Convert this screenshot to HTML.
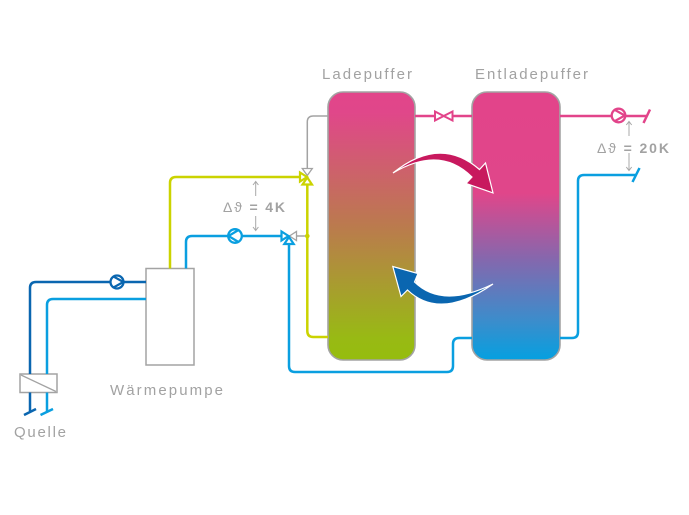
<!DOCTYPE html>
<html>
<head>
<meta charset="utf-8">
<style>
  html,body{margin:0;padding:0;background:#fff;}
  svg{display:block;}
  text{font-family:"Liberation Sans",sans-serif;fill:#a2a2a2;}
</style>
</head>
<body>
<svg width="689" height="515" viewBox="0 0 689 515" xmlns="http://www.w3.org/2000/svg">
  <defs>
    <linearGradient id="gLade" x1="0" y1="91" x2="0" y2="360" gradientUnits="userSpaceOnUse">
      <stop offset="0" stop-color="#e2448a"/>
      <stop offset="0.08" stop-color="#e0478a"/>
      <stop offset="0.5" stop-color="#bb7a4e"/>
      <stop offset="0.92" stop-color="#98ba14"/>
      <stop offset="1" stop-color="#96bc0e"/>
    </linearGradient>
    <linearGradient id="gEnt" x1="0" y1="91" x2="0" y2="360" gradientUnits="userSpaceOnUse">
      <stop offset="0" stop-color="#e2448a"/>
      <stop offset="0.38" stop-color="#e0468a"/>
      <stop offset="0.63" stop-color="#8368ae"/>
      <stop offset="0.85" stop-color="#3d8ccb"/>
      <stop offset="1" stop-color="#05a0e0"/>
    </linearGradient>
  </defs>

  <!-- Labels -->
  <text x="322" y="79" font-size="15" textLength="90" lengthAdjust="spacing">Ladepuffer</text>
  <text x="475" y="79" font-size="15" textLength="113" lengthAdjust="spacing">Entladepuffer</text>
  <text x="110" y="395" font-size="15" textLength="113" lengthAdjust="spacing">Wärmepumpe</text>
  <text x="14" y="437" font-size="15" textLength="52" lengthAdjust="spacing">Quelle</text>
  <text x="223" y="212" font-size="14" textLength="62" lengthAdjust="spacing"><tspan>Δϑ</tspan><tspan font-weight="bold"> = 4K</tspan></text>
  <text x="597" y="153" font-size="14" textLength="72" lengthAdjust="spacing"><tspan>Δϑ</tspan><tspan font-weight="bold"> = 20K</tspan></text>

  <!-- small dimension arrows -->
  <g stroke="#a8a8a8" stroke-width="1" fill="none">
    <path d="M255.7 196 V182 M253 185 L255.7 181.5 L258.4 185"/>
    <path d="M255.7 216 V230 M253 227 L255.7 230.5 L258.4 227"/>
    <path d="M629 136 V122 M626.3 125 L629 121.5 L631.7 125"/>
    <path d="M629 153 V170 M626.3 167 L629 170.5 L631.7 167"/>
  </g>

  <!-- Tanks -->
  <rect x="328" y="92" width="87" height="268" rx="15" ry="15" fill="url(#gLade)" stroke="#a3a3a3" stroke-width="1.6"/>
  <rect x="472" y="92" width="88" height="268" rx="15" ry="15" fill="url(#gEnt)" stroke="#a3a3a3" stroke-width="1.6"/>

  <!-- Wärmepumpe box -->
  <rect x="146" y="268.5" width="48" height="96.5" fill="#fff" stroke="#a3a3a3" stroke-width="1.5"/>

  <!-- Quelle box -->
  <rect x="20" y="374" width="37" height="18.5" fill="#fff" stroke="#a3a3a3" stroke-width="1.5"/>
  <line x1="21" y1="375" x2="56" y2="391.5" stroke="#a3a3a3" stroke-width="1.3"/>

  <!-- gray pipes -->
  <g stroke="#a3a3a3" stroke-width="1.5" fill="none">
    <path d="M307.3 168 V122 Q307.3 116 313.3 116 H328"/>
    <path d="M296.5 236 H307"/>
  </g>

  <!-- yellow pipes -->
  <g stroke="#cbd300" stroke-width="2.5" fill="none">
    <path d="M170 268.5 V183 Q170 177 176 177 H299"/>
    <path d="M307.3 185 V331 Q307.3 337 313.3 337 H328"/>
  </g>
  <circle cx="307.3" cy="236" r="2.3" fill="#cbd300"/>

  <!-- yellow valve -->
  <polygon points="302.3,168.5 312.3,168.5 307.3,175.5" fill="#fff" stroke="#a3a3a3" stroke-width="1.3"/>
  <polygon points="300,172.5 300,181.5 307,177" fill="#fff" stroke="#cbd300" stroke-width="2.2" stroke-linejoin="miter"/>
  <polygon points="302.5,184.5 312,184.5 307.3,177.5" fill="#fff" stroke="#cbd300" stroke-width="2.2"/>

  <!-- light blue pipes -->
  <g stroke="#0a9fe0" stroke-width="2.5" fill="none">
    <path d="M186 268.5 V242 Q186 236 192 236 H281"/>
    <path d="M289 244 V366 Q289 372 295 372 H447 Q453 372 453 366 V344 Q453 338 459 338 H472"/>
    <path d="M560 338 H572 Q578 338 578 332 V181 Q578 175 584 175 H636"/>
    <path d="M146 299 H53 Q47 299 47 305 V374"/>
    <path d="M47 392.5 V411"/>
    <path d="M40.5 415 L53 409"/>
    <path d="M632.5 182 L639.5 168"/>
  </g>

  <!-- blue pump -->
  <circle cx="235" cy="236" r="6.8" fill="#fff" stroke="#0a9fe0" stroke-width="2.3"/>
  <path d="M238.5 230 L228.5 236 L238.5 242" fill="none" stroke="#0a9fe0" stroke-width="2.2"/>

  <!-- blue valve -->
  <polygon points="296.5,231.5 296.5,240.5 289.5,236" fill="#fff" stroke="#a3a3a3" stroke-width="1.3"/>
  <polygon points="281.5,231.5 281.5,240.5 288.5,236" fill="#fff" stroke="#0a9fe0" stroke-width="2.2"/>
  <polygon points="284.3,244 293.7,244 289,237" fill="#fff" stroke="#0a9fe0" stroke-width="2.2"/>

  <!-- dark blue pipes -->
  <g stroke="#0a66b0" stroke-width="2.5" fill="none">
    <path d="M146 282 H36 Q30 282 30 288 V374"/>
    <path d="M30 392.5 V411"/>
    <path d="M24 415 L36 409"/>
  </g>
  <circle cx="117" cy="282" r="6.5" fill="#fff" stroke="#0a66b0" stroke-width="2.3"/>
  <path d="M113.5 276.5 L123.3 282 L113.5 287.5" fill="none" stroke="#0a66b0" stroke-width="2.2"/>

  <!-- pink pipes -->
  <g stroke="#e2448a" stroke-width="2.5" fill="none">
    <path d="M415 116 H435"/>
    <path d="M452.5 116 H472"/>
    <path d="M560 116 H646"/>
    <path d="M643.5 123 L650 109.5"/>
  </g>
  <path d="M435,111.5 L435,120.5 L443.7,116 Z M452.5,111.5 L452.5,120.5 L443.7,116 Z" fill="#fff" stroke="#e2448a" stroke-width="2"/>
  <circle cx="618.5" cy="115.5" r="6.8" fill="#fff" stroke="#e2448a" stroke-width="2.3"/>
  <path d="M615 110 L624.8 115.5 L615 121" fill="none" stroke="#e2448a" stroke-width="2.2"/>

  <!-- magenta curved arrow -->
  <path d="M393 173 Q440 135 479.5 169.5 L485.5 163 L493 193 L466 183.5 L472 177 Q440 145 393 173 Z"
        fill="#c8195e" stroke="#fff" stroke-width="1.2" stroke-linejoin="miter"/>

  <!-- blue curved arrow -->
  <path d="M493 284 Q440 321 407.5 290 L401 296.5 L392.8 266.5 L418 273.5 L414.5 282 Q442 309 493 284 Z"
        fill="#0a66b0" stroke="#fff" stroke-width="1.2" stroke-linejoin="miter"/>
</svg>
</body>
</html>
